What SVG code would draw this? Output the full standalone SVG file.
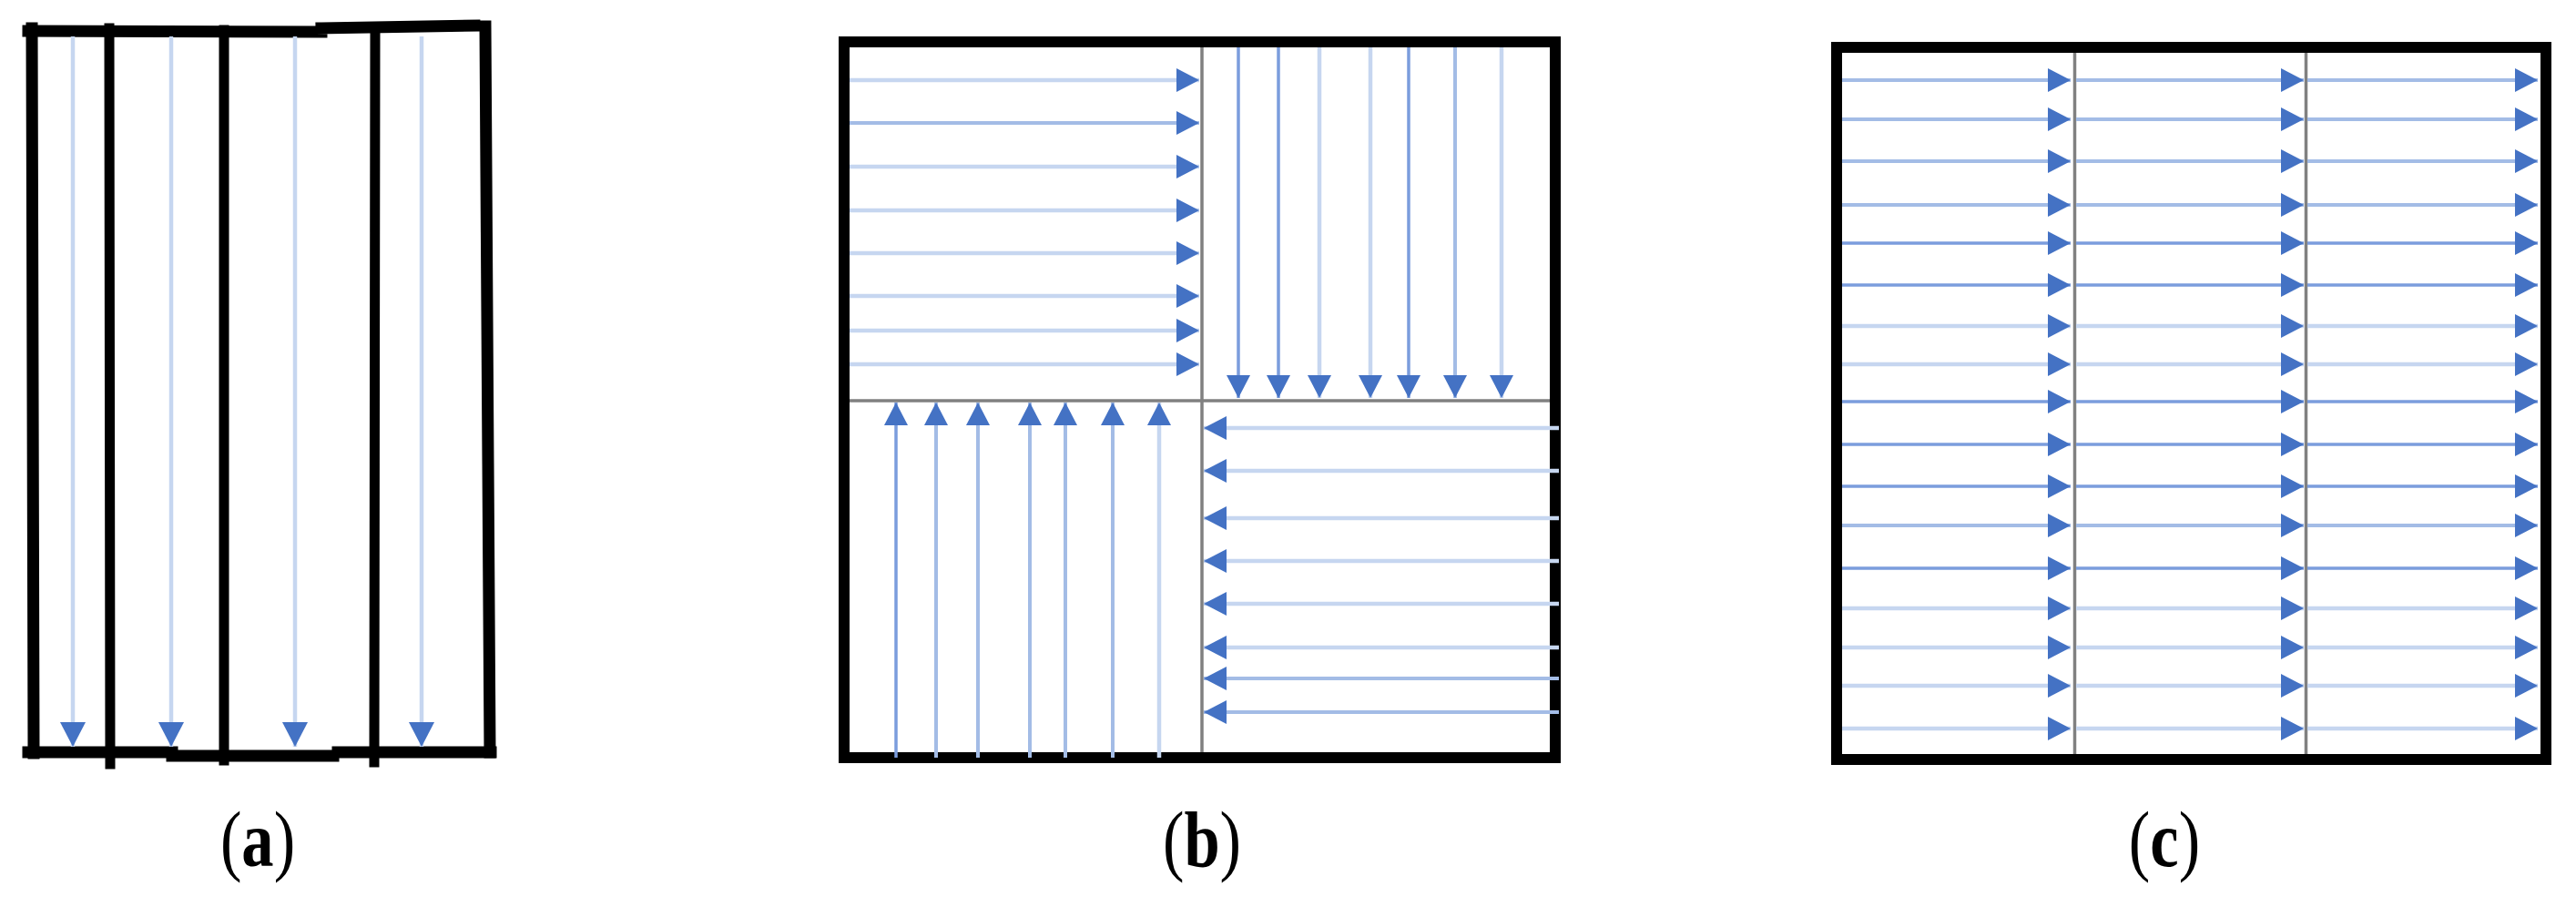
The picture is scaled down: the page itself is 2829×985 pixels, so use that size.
<svg xmlns="http://www.w3.org/2000/svg" width="2829" height="985" viewBox="0 0 2829 985">
<style>
.bk{fill:none;stroke:#000;stroke-width:12;stroke-linecap:square}
.bka{fill:none;stroke:#000;stroke-width:13;stroke-linecap:square}
.gr{fill:none;stroke:#808080;stroke-width:3.5}
.lt{stroke:#c6d6f0;stroke-width:4.5;fill:none}
.md{stroke:#a3bce6;stroke-width:4;fill:none}
.dk{stroke:#7b9ddd;stroke-width:3.5;fill:none}
.ah{marker-end:url(#head)}
.aha{marker-end:url(#headA)}
.lbl{font-family:"Liberation Serif","Times New Roman",serif;font-size:86px;fill:#000}
.b{font-weight:bold}
</style>
<defs>
<marker id="head" markerUnits="userSpaceOnUse" markerWidth="26" markerHeight="26" viewBox="0 0 26 26" refX="25" refY="13" orient="auto">
<path d="M0,0 L25,13 L0,26 z" fill="#4472c4"/>
</marker>
<marker id="headA" markerUnits="userSpaceOnUse" markerWidth="28" markerHeight="28" viewBox="0 0 28 28" refX="27" refY="14" orient="auto">
<path d="M0,0 L27,14 L0,28 z" fill="#4472c4"/>
</marker>
</defs>
<rect width="2829" height="985" fill="#fff"/>

<!-- Panel (a) -->
<g id="panel-a">
<path class="bka" d="M35,31 L37,827"/>
<path class="bka" d="M31,34 L353,35 M353,31 L521,28"/>
<path class="bka" d="M533,29 L538,826"/>
<path class="bka" d="M31,826 H189 M189,830 H366 M371,826 H539"/>
<path class="bka" d="M120,31 L121,839 M246,33 L246,835 M412,32 L411,837" style="stroke-width:11"/>
</g>
<g id="arrows-a">
<line class="lt aha" x1="80" y1="40" x2="80" y2="820"/>
<line class="lt aha" x1="188" y1="40" x2="188" y2="820"/>
<line class="lt aha" x1="324" y1="40" x2="324" y2="820"/>
<line class="lt aha" x1="463" y1="40" x2="463" y2="820"/>
</g>

<!-- Panel (b) -->
<g id="panel-b">
<rect class="bk" x="927" y="46" width="781" height="786" stroke-linecap="butt"/>
<line class="gr" x1="1320" y1="52" x2="1320" y2="826"/>
<line class="gr" x1="933" y1="440" x2="1702" y2="440"/>
</g>
<g id="arrows-b">
<line class="lt ah" x1="933" y1="88" x2="1317" y2="88"/>
<line class="md ah" x1="933" y1="135" x2="1317" y2="135"/>
<line class="lt ah" x1="933" y1="183" x2="1317" y2="183"/>
<line class="lt ah" x1="933" y1="231" x2="1317" y2="231"/>
<line class="lt ah" x1="933" y1="278" x2="1317" y2="278"/>
<line class="lt ah" x1="933" y1="325" x2="1317" y2="325"/>
<line class="lt ah" x1="933" y1="363" x2="1317" y2="363"/>
<line class="lt ah" x1="933" y1="400" x2="1317" y2="400"/>

<line class="dk ah" x1="1360" y1="52" x2="1360" y2="437"/>
<line class="dk ah" x1="1404" y1="52" x2="1404" y2="437"/>
<line class="lt ah" x1="1449" y1="52" x2="1449" y2="437"/>
<line class="lt ah" x1="1505" y1="52" x2="1505" y2="437"/>
<line class="dk ah" x1="1547" y1="52" x2="1547" y2="437"/>
<line class="md ah" x1="1598" y1="52" x2="1598" y2="437"/>
<line class="lt ah" x1="1649" y1="52" x2="1649" y2="437"/>

<line class="dk ah" x1="984" y1="832" x2="984" y2="442"/>
<line class="md ah" x1="1028" y1="832" x2="1028" y2="442"/>
<line class="md ah" x1="1074" y1="832" x2="1074" y2="442"/>
<line class="md ah" x1="1131" y1="832" x2="1131" y2="442"/>
<line class="md ah" x1="1170" y1="832" x2="1170" y2="442"/>
<line class="md ah" x1="1222" y1="832" x2="1222" y2="442"/>
<line class="lt ah" x1="1273" y1="832" x2="1273" y2="442"/>

<line class="lt ah" x1="1712" y1="470" x2="1322" y2="470"/>
<line class="lt ah" x1="1712" y1="517" x2="1322" y2="517"/>
<line class="lt ah" x1="1712" y1="569" x2="1322" y2="569"/>
<line class="lt ah" x1="1712" y1="616" x2="1322" y2="616"/>
<line class="lt ah" x1="1712" y1="663" x2="1322" y2="663"/>
<line class="lt ah" x1="1712" y1="711" x2="1322" y2="711"/>
<line class="md ah" x1="1712" y1="745" x2="1322" y2="745"/>
<line class="md ah" x1="1712" y1="782" x2="1322" y2="782"/>
</g>

<!-- Panel (c) -->
<g id="panel-c">
<rect class="bk" x="2017" y="52" width="779" height="782" stroke-linecap="butt"/>
<line class="gr" x1="2278.5" y1="58" x2="2278.5" y2="828"/>
<line class="gr" x1="2532.5" y1="58" x2="2532.5" y2="828"/>
</g>
<g id="arrows-c">
<g class="md"><line class="ah" x1="2023" y1="88" x2="2274" y2="88"/><line class="ah" x1="2280" y1="88" x2="2530" y2="88"/><line class="ah" x1="2534" y1="88" x2="2787" y2="88"/></g>
<g class="md"><line class="ah" x1="2023" y1="131" x2="2274" y2="131"/><line class="ah" x1="2280" y1="131" x2="2530" y2="131"/><line class="ah" x1="2534" y1="131" x2="2787" y2="131"/></g>
<g class="md"><line class="ah" x1="2023" y1="177" x2="2274" y2="177"/><line class="ah" x1="2280" y1="177" x2="2530" y2="177"/><line class="ah" x1="2534" y1="177" x2="2787" y2="177"/></g>
<g class="md"><line class="ah" x1="2023" y1="225" x2="2274" y2="225"/><line class="ah" x1="2280" y1="225" x2="2530" y2="225"/><line class="ah" x1="2534" y1="225" x2="2787" y2="225"/></g>
<g class="dk"><line class="ah" x1="2023" y1="267" x2="2274" y2="267"/><line class="ah" x1="2280" y1="267" x2="2530" y2="267"/><line class="ah" x1="2534" y1="267" x2="2787" y2="267"/></g>
<g class="dk"><line class="ah" x1="2023" y1="313" x2="2274" y2="313"/><line class="ah" x1="2280" y1="313" x2="2530" y2="313"/><line class="ah" x1="2534" y1="313" x2="2787" y2="313"/></g>
<g class="lt"><line class="ah" x1="2023" y1="358" x2="2274" y2="358"/><line class="ah" x1="2280" y1="358" x2="2530" y2="358"/><line class="ah" x1="2534" y1="358" x2="2787" y2="358"/></g>
<g class="lt"><line class="ah" x1="2023" y1="400" x2="2274" y2="400"/><line class="ah" x1="2280" y1="400" x2="2530" y2="400"/><line class="ah" x1="2534" y1="400" x2="2787" y2="400"/></g>
<g class="dk"><line class="ah" x1="2023" y1="441" x2="2274" y2="441"/><line class="ah" x1="2280" y1="441" x2="2530" y2="441"/><line class="ah" x1="2534" y1="441" x2="2787" y2="441"/></g>
<g class="dk"><line class="ah" x1="2023" y1="488" x2="2274" y2="488"/><line class="ah" x1="2280" y1="488" x2="2530" y2="488"/><line class="ah" x1="2534" y1="488" x2="2787" y2="488"/></g>
<g class="dk"><line class="ah" x1="2023" y1="534" x2="2274" y2="534"/><line class="ah" x1="2280" y1="534" x2="2530" y2="534"/><line class="ah" x1="2534" y1="534" x2="2787" y2="534"/></g>
<g class="md"><line class="ah" x1="2023" y1="577" x2="2274" y2="577"/><line class="ah" x1="2280" y1="577" x2="2530" y2="577"/><line class="ah" x1="2534" y1="577" x2="2787" y2="577"/></g>
<g class="dk"><line class="ah" x1="2023" y1="624" x2="2274" y2="624"/><line class="ah" x1="2280" y1="624" x2="2530" y2="624"/><line class="ah" x1="2534" y1="624" x2="2787" y2="624"/></g>
<g class="lt"><line class="ah" x1="2023" y1="668" x2="2274" y2="668"/><line class="ah" x1="2280" y1="668" x2="2530" y2="668"/><line class="ah" x1="2534" y1="668" x2="2787" y2="668"/></g>
<g class="lt"><line class="ah" x1="2023" y1="711" x2="2274" y2="711"/><line class="ah" x1="2280" y1="711" x2="2530" y2="711"/><line class="ah" x1="2534" y1="711" x2="2787" y2="711"/></g>
<g class="lt"><line class="ah" x1="2023" y1="753" x2="2274" y2="753"/><line class="ah" x1="2280" y1="753" x2="2530" y2="753"/><line class="ah" x1="2534" y1="753" x2="2787" y2="753"/></g>
<g class="lt"><line class="ah" x1="2023" y1="800" x2="2274" y2="800"/><line class="ah" x1="2280" y1="800" x2="2530" y2="800"/><line class="ah" x1="2534" y1="800" x2="2787" y2="800"/></g>
</g>

<!-- Labels -->
<g id="label-a" transform="translate(283,951) scale(0.82,1)">
<text class="lbl" x="0" y="0" text-anchor="middle">(<tspan class="b">a</tspan>)</text>
</g>
<g id="label-b" transform="translate(1320,951) scale(0.82,1)">
<text class="lbl" x="0" y="0" text-anchor="middle">(<tspan class="b">b</tspan>)</text>
</g>
<g id="label-c" transform="translate(2377,951) scale(0.82,1)">
<text class="lbl" x="0" y="0" text-anchor="middle">(<tspan class="b">c</tspan>)</text>
</g>
</svg>
